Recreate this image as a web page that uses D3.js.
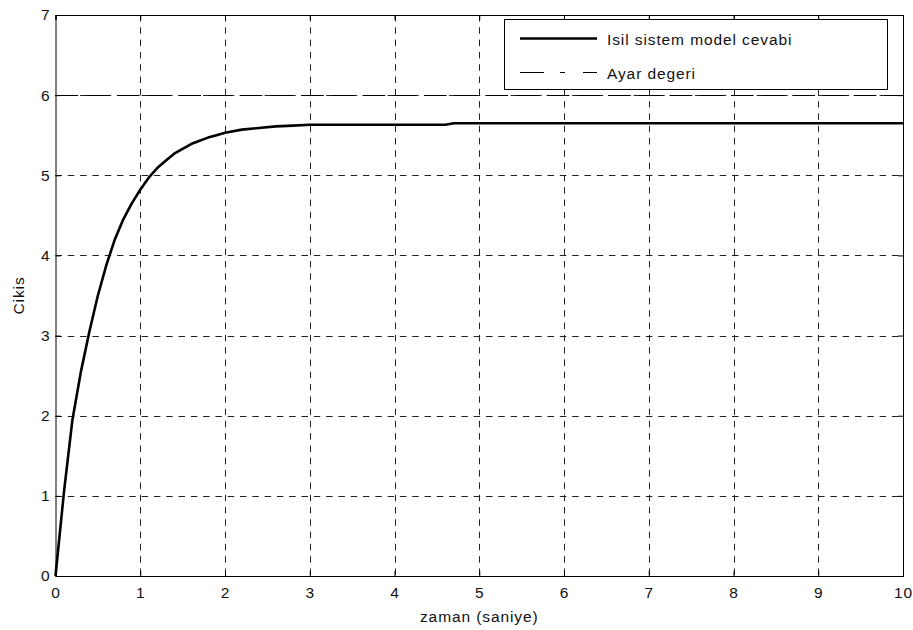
<!DOCTYPE html>
<html>
<head>
<meta charset="utf-8">
<script src="https://cdn.jsdelivr.net/npm/d3@7"></script>
<style>
  body { margin: 0; background: #fff; }
  svg { display: block; font-family: "Liberation Sans", Arial, sans-serif; }
  text { letter-spacing: 0.9px; fill: #111; }
</style>
</head>
<body>
<div id="chart"></div>
<script>
// step response
const time = [0, 0.1, 0.2, 0.3, 0.4, 0.5, 0.6, 0.7, 0.8, 0.9, 1.0, 1.1, 1.2, 1.3, 1.4, 1.5, 1.6, 1.7, 1.8, 1.9, 2.0, 2.2, 2.4, 2.6, 2.8, 3.0, 4.6, 4.7, 10];
const response = [0, 1.05, 1.95, 2.55, 3.05, 3.5, 3.88, 4.2, 4.45, 4.65, 4.82, 4.97, 5.09, 5.18, 5.27, 5.33, 5.39, 5.43, 5.47, 5.5, 5.53, 5.57, 5.59, 5.61, 5.62, 5.63, 5.63, 5.65, 5.65];
const setpoint = 6;
const xTicks = [0, 1, 2, 3, 4, 5, 6, 7, 8, 9, 10];
const yTicks = [0, 1, 2, 3, 4, 5, 6, 7];
const legendLabels = ["Isil sistem model cevabi", "Ayar degeri"];

const width = 913, height = 630;
const margin = { top: 15, right: 10, bottom: 54, left: 55.5 };
const fontSize = "15.5px";

const x = d3.scaleLinear().domain([0, 10]).range([margin.left, width - margin.right]);
const y = d3.scaleLinear().domain([0, 7]).range([height - margin.bottom, margin.top]);

const svg = d3.select("#chart").append("svg")
  .attr("width", width)
  .attr("height", height);

// grid
const grid = svg.append("g").attr("stroke", "#222").attr("stroke-width", 1).attr("stroke-dasharray", "6.5,5.8");
grid.selectAll(".gx").data(xTicks.slice(1, -1)).enter().append("line")
  .attr("x1", d => Math.round(x(d)) + 0.5).attr("x2", d => Math.round(x(d)) + 0.5)
  .attr("y1", y(7)).attr("y2", y(0));
grid.selectAll(".gy").data(yTicks.slice(1, -1)).enter().append("line")
  .attr("y1", d => Math.round(y(d)) + 0.5).attr("y2", d => Math.round(y(d)) + 0.5)
  .attr("x1", x(0)).attr("x2", x(10));

// setpoint
svg.append("line")
  .attr("x1", x(0)).attr("x2", x(10))
  .attr("y1", Math.round(y(setpoint)) + 0.5).attr("y2", Math.round(y(setpoint)) + 0.5)
  .attr("stroke", "#000").attr("stroke-width", 1)
  .attr("stroke-dasharray", "22.7,8");

// response curve
const line = d3.line().x((d, i) => x(time[i])).y(d => y(d));
svg.append("path")
  .datum(response)
  .attr("fill", "none")
  .attr("stroke", "#000")
  .attr("stroke-width", 2.6)
  .attr("stroke-linejoin", "round")
  .attr("d", line);

// axes, ticks inward on all four sides
const tickLen = 5;
svg.append("g")
  .attr("transform", `translate(0,${y(0)})`)
  .call(d3.axisBottom(x).tickValues(xTicks).tickSize(-tickLen).tickPadding(11).tickFormat(d3.format("d")));
svg.append("g")
  .attr("transform", `translate(0,${y(7)})`)
  .call(d3.axisTop(x).tickValues(xTicks).tickSize(-tickLen).tickFormat(""));
svg.append("g")
  .attr("transform", `translate(${x(0)},0)`)
  .call(d3.axisLeft(y).tickValues(yTicks).tickSize(-tickLen).tickPadding(5).tickFormat(d3.format("d")));
svg.append("g")
  .attr("transform", `translate(${x(10)},0)`)
  .call(d3.axisRight(y).tickValues(yTicks).tickSize(-tickLen).tickFormat(""));

svg.selectAll(".domain").attr("stroke", "#000").attr("stroke-width", 1);
svg.selectAll(".tick line").attr("stroke", "#000");
svg.selectAll(".tick text")
  .attr("fill", "#111")
  .style("font-size", fontSize)
  .style("font-family", "'Liberation Sans', Arial, sans-serif");

// axis labels
svg.append("text")
  .attr("x", (x(0) + x(10)) / 2)
  .attr("y", 622)
  .attr("text-anchor", "middle")
  .style("font-size", fontSize)
  .text("zaman (saniye)");
svg.append("text")
  .attr("transform", `translate(24,${(y(0) + y(7)) / 2}) rotate(-90)`)
  .attr("text-anchor", "middle")
  .style("font-size", fontSize)
  .text("Cikis");

// legend
const legend = svg.append("g");
legend.append("rect")
  .attr("x", 504.5).attr("y", 19.5)
  .attr("width", 383).attr("height", 70)
  .attr("fill", "#fff").attr("stroke", "#000").attr("stroke-width", 1);
legend.append("line")
  .attr("x1", 520).attr("x2", 597).attr("y1", 38.5).attr("y2", 38.5)
  .attr("stroke", "#000").attr("stroke-width", 2.6);
legend.append("line")
  .attr("x1", 520).attr("x2", 597).attr("y1", 72.5).attr("y2", 72.5)
  .attr("stroke", "#000").attr("stroke-width", 1)
  .attr("stroke-dasharray", "24,16,5,18,15");
legend.selectAll(".lt").data(legendLabels).enter().append("text")
  .attr("x", 607)
  .attr("y", (d, i) => 45 + i * 34)
  .style("font-size", fontSize)
  .text(d => d);
</script>
</body>
</html>
